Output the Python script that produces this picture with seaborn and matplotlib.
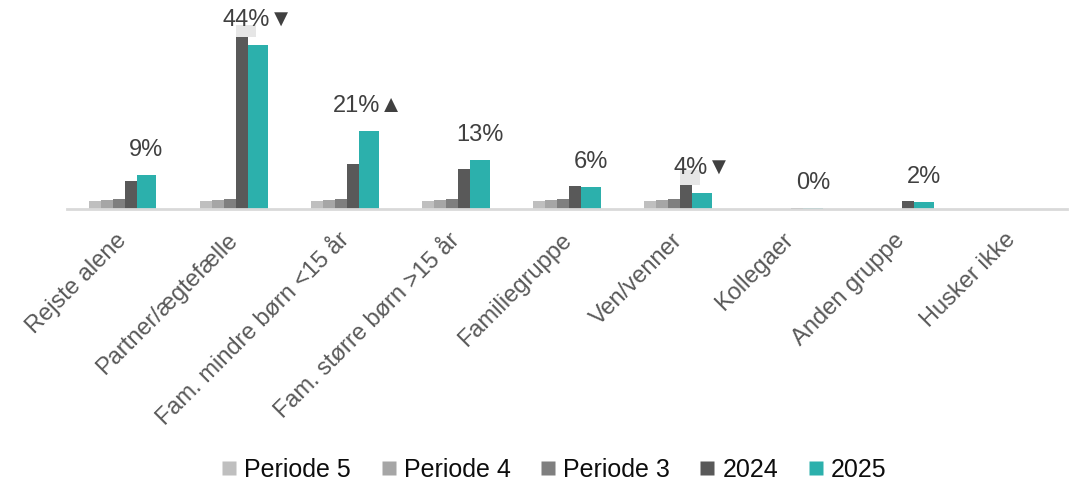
import matplotlib
matplotlib.use("Agg")
import matplotlib.pyplot as plt
import matplotlib.transforms as mtransforms
from matplotlib.lines import Line2D
import seaborn as sns
import pandas as pd

categories = ["Rejste alene", "Partner/ægtefælle", "Fam. mindre børn <15 år",
              "Fam. større børn >15 år", "Familiegruppe", "Ven/venner",
              "Kollegaer", "Anden gruppe", "Husker ikke"]
series = ["Periode 5", "Periode 4", "Periode 3", "2024", "2025"]
periode5 = [2.1, 2.1, 2.1, 2.1, 2.1, 2.1, 0, 0, 0]
periode4 = [2.4, 2.4, 2.4, 2.4, 2.4, 2.4, 0, 0, 0]
periode3 = [2.7, 2.7, 2.7, 2.7, 2.7, 2.7, 0, 0, 0]
y2024 = [7.5, 46.0, 12.0, 10.8, 6.2, 6.4, 0.3, 2.1, 0]
y2025 = [9.1, 44.0, 21.0, 13.0, 5.9, 4.4, 0.3, 1.9, 0]
labels_2025 = ["9%", "44%▼", "21%▲", "13%", "6%", "4%▼", "0%", "2%", ""]
# light grey label-box remnants visible above the 2024 bars
box_height = [0, 3.2, 0, 0, 0, 4.0, 0, 0, 0]
colors = ["#bfbfbf", "#a6a6a6", "#7f7f7f", "#595959", "#2cb0ac"]

values = [periode5, periode4, periode3, y2024, y2025]
rows = []
for s, vals in zip(series, values):
    for c, v in zip(categories, vals):
        rows.append({"cat": c, "series": s, "val": v})
df = pd.DataFrame(rows)

sns.set_style("white")
plt.rcParams["font.family"] = ["Liberation Sans", "DejaVu Sans"]

fig = plt.figure(figsize=(10.79, 4.83), dpi=100)
ax = fig.add_axes([67 / 1079, 1 - 209 / 483, 1000 / 1079, 209 / 483])

sns.barplot(data=df, x="cat", y="val", hue="series", hue_order=series,
            order=categories, palette=colors, width=0.61, dodge=True,
            saturation=1, errorbar=None, ax=ax, legend=True)

# Re-pack bars: four narrow gray bars + one wider teal bar per group
rel_widths = [12, 12, 12, 12, 20]
total = sum(rel_widths)
group_w = 0.61
for k, cont in enumerate(ax.containers):
    for patch in cont.patches:
        cx = patch.get_x() + patch.get_width() / 2
        g = round(cx)
        start = g - group_w / 2 + group_w * sum(rel_widths[:k]) / total
        w = group_w * rel_widths[k] / total
        patch.set_x(start)
        patch.set_width(w)
        patch.set_edgecolor("none")
        patch.set_linewidth(0)
        patch.set_zorder(2)

# grey label boxes behind labels
box_w = group_w * rel_widths[4] / total
box_x = [i - group_w / 2 + group_w * sum(rel_widths[:3]) / total
         for i in range(len(categories))]
ax.bar(box_x, box_height, bottom=y2024, width=box_w, align="edge",
       color="#e6e6e6", linewidth=0, zorder=1)

# Data labels above 2025 bars
for i, (v, lab) in enumerate(zip(y2025, labels_2025)):
    if not lab:
        continue
    start = i - group_w / 2 + group_w * sum(rel_widths[:4]) / total
    xc = start + group_w * rel_widths[4] / total / 2
    ax.annotate(lab, xy=(xc, v), xytext=(0, 18), textcoords="offset points",
                ha="center", va="center", fontsize=17, color="#404040",
                zorder=3)

ax.set_xlim(-0.5, len(categories) - 0.5)
ax.set_ylim(0, 56)
ax.set_xlabel("")
ax.set_ylabel("")
ax.set_yticks([])
for s in ["top", "right", "left"]:
    ax.spines[s].set_visible(False)
ax.spines["bottom"].set_color("#d9d9d9")
ax.spines["bottom"].set_linewidth(2)
ax.tick_params(axis="x", length=0, pad=20)
ax.set_xticks(range(len(categories)))
ax.set_xticklabels(categories, rotation=45, ha="right", va="center",
                   rotation_mode="anchor", fontsize=17, color="#595959")
offset = mtransforms.ScaledTranslation(1 / 100, 0, fig.dpi_scale_trans)
for t in ax.get_xticklabels():
    t.set_transform(t.get_transform() + offset)

ax.legend_.remove()
h2 = [Line2D([0], [0], marker="s", linestyle="none", markersize=9.8,
             markerfacecolor=c, markeredgecolor="none") for c in colors]
fig.legend(h2, series, loc="center", bbox_to_anchor=(554 / 1079, 1 - 470 / 483),
           ncol=5, frameon=False, fontsize=18, handlelength=0.6,
           handletextpad=0.3, columnspacing=1.2, labelcolor="#0d0d0d",
           borderpad=0, borderaxespad=0)

fig.savefig("out.png", dpi=100)
